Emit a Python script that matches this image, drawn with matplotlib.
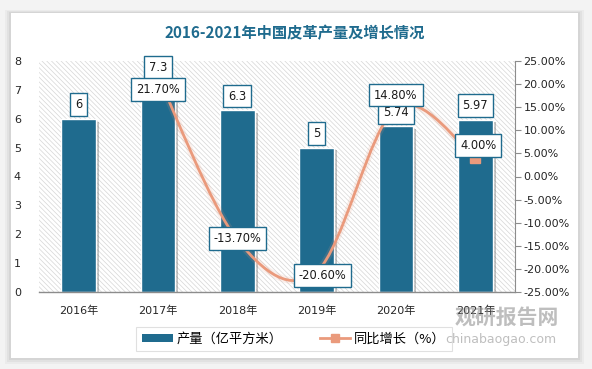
import numpy as np
import matplotlib
matplotlib.use("Agg")
import matplotlib.pyplot as plt
from matplotlib.patches import Rectangle, Patch
from matplotlib.lines import Line2D
from matplotlib.path import Path
from matplotlib.patches import PathPatch
import matplotlib.patheffects as pe

plt.rcParams['font.family'] = ['DejaVu Sans', 'Noto Sans CJK SC']
plt.rcParams['hatch.linewidth'] = 0.5
plt.rcParams['hatch.color'] = '#D6D6D6'

# ---- data ----
years = ['2016年', '2017年', '2018年', '2019年', '2020年', '2021年']
output = [6, 7.3, 6.3, 5, 5.74, 5.97]            # 亿平方米
growth_years = ['2017年', '2018年', '2019年', '2020年', '2021年']
growth = [21.70, -13.70, -20.60, 14.80, 4.00]    # %
bar_labels = ['6', '7.3', '6.3', '5', '5.74', '5.97']
left_ticks = [0, 1, 2, 3, 4, 5, 6, 7, 8]
right_ticks = [-25, -20, -15, -10, -5, 0, 5, 10, 15, 20, 25]

BAR = '#1F6B8E'
LINE = '#EA9A7C'

W, H = 592, 369
fig = plt.figure(figsize=(W / 100, H / 100), dpi=100)
fig.patch.set_facecolor('#F3F3F3')

def px(x0, y0, x1, y1):
    return (x0 / W, 1 - y1 / H, (x1 - x0) / W, (y1 - y0) / H)

# card shadow + card
for k, a in [(6, 0.03), (4, 0.04), (2, 0.05)]:
    l, b, w, h = px(11 - k, 13 - k / 2, 578 + k, 358 + k)
    fig.patches.append(Rectangle((l, b), w, h, transform=fig.transFigure,
                                 facecolor='black', alpha=a, edgecolor='none', zorder=-3))
l, b, w, h = px(11, 13, 578, 358)
fig.patches.append(Rectangle((l, b), w, h, transform=fig.transFigure,
                             facecolor='white', edgecolor='none', zorder=-2))

# axes
ax = fig.add_axes(px(39, 61, 515, 292))
ax.set_facecolor('none')
ax.add_patch(Rectangle((0, 0), 1, 1, transform=ax.transAxes, facecolor='white',
                       hatch='\\' * 7, edgecolor='#D6D6D6', lw=0, zorder=0))

x = np.arange(len(years))
bars = ax.bar(x, output, width=0.44, color=BAR, edgecolor='white', linewidth=1.0, zorder=2)
for bb in bars:
    bb.set_path_effects([pe.SimplePatchShadow(offset=(2, -2), shadow_rgbFace='#555555', alpha=0.35),
                         pe.Normal()])
ax.set_xlim(-0.5, len(years) - 0.5)
ax.set_ylim(0, 8)
ax.set_yticks(left_ticks)
ax.set_yticklabels([str(t) for t in left_ticks])
ax.set_xticks(x)
ax.set_xticklabels(years)
ax.tick_params(axis='y', length=0, pad=13, labelsize=8, labelcolor='#262626')
ax.tick_params(axis='x', length=0, pad=10, labelsize=8, labelcolor='#262626')
for s in ['top', 'left', 'right']:
    ax.spines[s].set_visible(False)
ax.spines['bottom'].set_color('#8C8C8C')
ax.spines['bottom'].set_linewidth(1)

ax2 = ax.twinx()
ax2.set_ylim(-25, 25)
ax2.set_yticks(right_ticks)
ax2.set_yticklabels(['%.2f%%' % t for t in right_ticks])
ax2.tick_params(axis='y', length=4, width=0.8, color='#8C8C8C', pad=2, labelsize=8,
                labelcolor='#262626')
for s in ['top', 'left', 'bottom']:
    ax2.spines[s].set_visible(False)
ax2.spines['right'].set_color('#8C8C8C')

# smoothed line (Catmull-Rom style Bezier, like Excel smoothing)
gx = np.array([years.index(g) for g in growth_years], dtype=float)
gy = np.array(growth, dtype=float)
P = np.column_stack([gx, gy])
Pe = np.vstack([P[0], P, P[-1]])
verts = [tuple(P[0])]
codes = [Path.MOVETO]
for i in range(len(P) - 1):
    p0, p1, p2, p3 = Pe[i], Pe[i + 1], Pe[i + 2], Pe[i + 3]
    c1 = p1 + (p2 - p0) / 6
    c2 = p2 - (p3 - p1) / 6
    verts += [tuple(c1), tuple(c2), tuple(p2)]
    codes += [Path.CURVE4] * 3
curve = PathPatch(Path(verts, codes), facecolor='none', edgecolor=LINE, lw=2, zorder=3,
                  path_effects=[pe.Stroke(linewidth=5, foreground=LINE, alpha=0.15), pe.Normal()])
ax2.add_patch(curve)
ax2.plot(gx[-1:], gy[-1:], linestyle='none', marker='s', markersize=7, color=LINE, zorder=3.5)

box = dict(boxstyle='square,pad=0.42', facecolor='white', edgecolor=BAR, linewidth=1)

# bar value labels
for i, (v, t) in enumerate(zip(output, bar_labels)):
    ax2.annotate(t, xy=(x[i], v), xycoords=ax.transData, xytext=(0, 14),
                 textcoords='offset pixels', ha='center', va='center', fontsize=8.3,
                 color='#1A1A1A', bbox=box, zorder=5)

# growth labels
g_offsets = [(0, -13), (0, 1), (6, -4), (0, 13), (3, 12.5)]
for (xx, yy), (dx, dy) in zip(P, g_offsets):
    ax2.annotate('%.2f%%' % yy, xy=(xx, yy), xytext=(dx, dy), textcoords='offset pixels',
                 ha='center', va='center', fontsize=8.3, color='#1A1A1A', bbox=box, zorder=6)

# title
fig.text(295 / W, 1 - 33 / H, '2016-2021年中国皮革产量及增长情况', ha='center', va='center',
         fontsize=11, fontweight='bold', color='#1F6B8E', family=['Noto Sans CJK SC'])

# legend
handles = [Patch(facecolor=BAR, edgecolor='none'),
           Line2D([0], [0], color=LINE, lw=2, marker='s', markersize=6)]
leg = fig.legend(handles, ['产量（亿平方米）', '同比增长（%）'], loc='center',
                 bbox_to_anchor=(294 / W, 1 - 339 / H), ncol=2, frameon=True,
                 fancybox=False, edgecolor='#D9D9D9', handlelength=2.3,
                 handleheight=0.5, columnspacing=2.8, borderpad=0.45, handletextpad=0.3,
                 borderaxespad=0.0, prop={'family': ['Noto Sans CJK SC'], 'size': 9.5})
leg.get_frame().set_linewidth(0.8)
leg.set_zorder(5)

# watermark (drawn on top, as in the reference)
fig.text(507 / W, 1 - 317 / H, '观研报告网', ha='center', va='center', fontsize=15,
         fontweight='bold', color='#8A8A8A', alpha=0.55, family=['Noto Sans CJK SC'], zorder=10)
fig.text(501 / W, 1 - 340 / H, 'chinabaogao.com', ha='center', va='center', fontsize=9,
         color='#8A8A8A', alpha=0.55, zorder=10)

fig.savefig('out.png', dpi=100, facecolor=fig.get_facecolor())
